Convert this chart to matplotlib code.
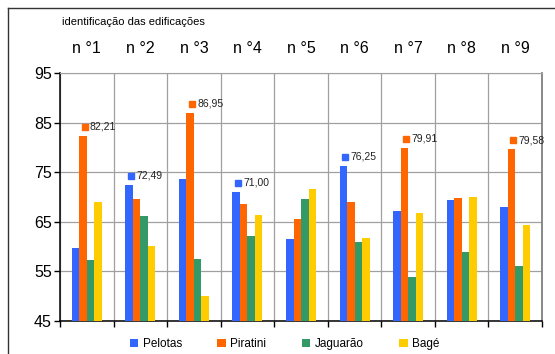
import matplotlib
matplotlib.use("Agg")
import matplotlib.pyplot as plt
import matplotlib.transforms as mtransforms
from matplotlib.lines import Line2D
import numpy as np

plt.rcParams["font.family"] = ["Liberation Sans", "DejaVu Sans"]

categories = ["n°1", "n°2", "n°3", "n°4", "n°5", "n°6", "n°7", "n°8", "n°9"]
pelotas = [59.7, 72.49, 73.7, 71.00, 61.5, 76.25, 67.2, 69.3, 67.9]
piratini = [82.21, 69.5, 86.95, 68.5, 65.6, 69.0, 79.91, 69.7, 79.58]
jaguarao = [57.3, 66.2, 57.6, 62.2, 69.5, 60.9, 53.9, 58.9, 56.0]
bage = [69.0, 60.1, 50.0, 66.4, 71.6, 61.7, 66.7, 70.1, 64.4]
series_names = ["Pelotas", "Piratini", "Jaguarão", "Bagé"]
colors = ["#3366FF", "#FF6600", "#339966", "#FFCC00"]

# data labels shown in the original: (group index, series index)
labelled = [(0, 1), (1, 0), (2, 1), (3, 0), (5, 0), (6, 1), (8, 1)]

fig = plt.figure(figsize=(5.55, 3.54), dpi=100)
ax = fig.add_axes([0.1081, 0.0932, 0.8685, 0.7006])

x = np.arange(len(categories))
w = 0.14
all_series = [pelotas, piratini, jaguarao, bage]
for i, (vals, c, name) in enumerate(zip(all_series, colors, series_names)):
    ax.bar(x + (i - 1.5) * w, vals, width=w, color=c, label=name, zorder=3)

for g, s in labelled:
    v = all_series[s][g]
    bx = x[g] + (s - 1.5) * w
    ax.plot([bx], [v], marker="s", markersize=4.5, color=colors[s],
            transform=ax.transData + mtransforms.ScaledTranslation(1.2 / 72, 6.5 / 72, fig.dpi_scale_trans),
            clip_on=False, zorder=4)
    ax.annotate(("%.2f" % v).replace(".", ","), (bx, v), xytext=(5, 6.8),
                textcoords="offset points", fontsize=7.5, va="center", ha="left",
                color="#222222")

ax.set_xlim(-0.5, 8.5)
ax.set_ylim(45, 95)
ax.set_yticks([45, 55, 65, 75, 85, 95])
ax.set_xticks(np.arange(-0.5, 9, 1))
ax.set_xticklabels([])
ax.tick_params(axis="x", length=4, width=1, color="black", direction="out")
ax.tick_params(axis="y", length=4, width=1, color="black", direction="out",
               labelsize=11.5, pad=2)
ax.grid(True, color="#a0a0a0", linewidth=0.9, zorder=0)
ax.set_axisbelow(True)
for side in ["left", "bottom"]:
    ax.spines[side].set_color("black")
    ax.spines[side].set_linewidth(1.1)
ax.spines["top"].set_color("#a0a0a0")
ax.spines["right"].set_color("#808080")
ax.spines["right"].set_linewidth(1.3)

trans = mtransforms.blended_transform_factory(ax.transData, ax.transAxes)
for xi, cat in zip(x, categories):
    ax.text(xi, 1.10, cat.replace("°", " °"), transform=trans, ha="center",
            va="center", fontsize=11.5)

fig.text(62 / 555, 1 - 22 / 354, "identificação das edificações", fontsize=8,
         ha="left", va="center")

fig.legend(loc="center", bbox_to_anchor=(0.513, 0.027), ncol=4, frameon=False,
           fontsize=8.5, handlelength=0.7, handleheight=0.7, handletextpad=0.4,
           columnspacing=3.0)

fig.add_artist(Line2D([8 / 555, 1], [1 - 8 / 354, 1 - 8 / 354], color="#333333", lw=1))
fig.add_artist(Line2D([8 / 555, 8 / 555], [0, 1 - 8 / 354], color="#333333", lw=1))

fig.savefig("out.png", dpi=100)
